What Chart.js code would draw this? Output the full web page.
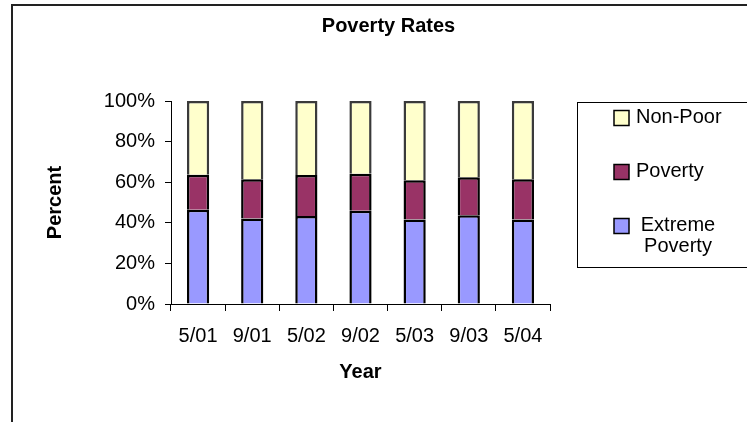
<!DOCTYPE html>
<html>
<head>
<meta charset="utf-8">
<title>Poverty Rates</title>
<script src="https://cdn.jsdelivr.net/npm/chart.js@4.4.1/dist/chart.umd.min.js"></script>
<style>
  html, body { margin: 0; padding: 0; background: #fff; overflow: hidden; }
  #wrap { position: absolute; left: 0; top: 0; width: 777px; height: 422px; }
</style>
</head>
<body>
<div id="wrap"><canvas id="myChart"></canvas></div>
<script>
const years = ["5/01", "9/01", "5/02", "9/02", "5/03", "9/03", "5/04"];
const extremePoverty = [46.4, 42.1, 43.4, 45.9, 41.6, 43.7, 41.6];
const poverty = [17.3, 19.4, 20.1, 18.3, 19.4, 18.8, 19.9];
const nonPoor = [36.3, 38.5, 36.5, 35.8, 39.0, 37.5, 38.5];
const seriesNames = ["Extreme Poverty", "Poverty", "Non-Poor"];
const seriesColors = ["#9999FF", "#993366", "#FFFFCC"];
const seriesBorders = ["#000000", "#000000", "#3a3a3a"];

const FONT = '"Liberation Sans", Arial, sans-serif';

// outer chart border (only left and top edges show in the picture)
const chartFrame = {
  id: "chartFrame",
  beforeDraw(chart) {
    const ctx = chart.ctx;
    ctx.save();
    ctx.strokeStyle = "#222";
    ctx.lineWidth = 2;
    ctx.beginPath();
    ctx.moveTo(12, chart.height);
    ctx.lineTo(12, 5);
    ctx.lineTo(chart.width, 5);
    ctx.stroke();
    ctx.restore();
  },
};

// boxed legend like the Excel one, wraps long names
const boxLegend = {
  id: "boxLegend",
  afterDraw(chart) {
    const { ctx, chartArea } = chart;
    const left = chartArea.right + 27;
    const top = chartArea.top + 1;
    ctx.save();
    ctx.strokeStyle = "#000";
    ctx.lineWidth = 1;
    ctx.strokeRect(Math.round(left) + 0.5, Math.round(top) + 0.5, 300, 165);
    ctx.font = "20px " + FONT;
    ctx.fillStyle = "#000";
    ctx.textBaseline = "middle";
    let y = top + 15;
    const items = chart.data.datasets.slice().reverse();
    items.forEach((ds) => {
      let lines = [ds.label];
      if (ctx.measureText(ds.label).width > 95) lines = ds.label.split(" ");
      ctx.fillStyle = ds.backgroundColor;
      ctx.fillRect(left + 37, y - 6.5, 15, 15);
      ctx.strokeStyle = "#000";
      ctx.lineWidth = 1.5;
      ctx.strokeRect(left + 37, y - 6.5, 15, 15);
      ctx.fillStyle = "#000";
      if (lines.length === 1) {
        ctx.textAlign = "left";
        ctx.fillText(lines[0], left + 59, y);
      } else {
        ctx.textAlign = "center";
        lines.forEach((ln, i) => ctx.fillText(ln, left + 101, y + i * 21.5));
      }
      y += 54;
    });
    ctx.restore();
  },
};

new Chart("myChart", {
  type: "bar",
  data: {
    labels: years,
    datasets: [
      { label: seriesNames[0], data: extremePoverty },
      { label: seriesNames[1], data: poverty },
      { label: seriesNames[2], data: nonPoor },
    ].map((ds, i) => ({
      ...ds,
      backgroundColor: seriesColors[i],
      borderColor: seriesBorders[i],
      borderWidth: 2.5,
      barPercentage: 0.41,
      categoryPercentage: 1,
    })),
  },
  options: {
    responsive: true,
    maintainAspectRatio: false,
    animation: false,
    layout: { padding: { left: 0, right: 0, top: 0, bottom: 38 } },
    plugins: {
      legend: { display: false },
      tooltip: { enabled: false },
      title: {
        display: true,
        text: "Poverty Rates",
        color: "#000",
        font: { family: FONT, size: 20, weight: "bold", lineHeight: 1.2 },
        padding: { top: 14, bottom: 63 },
      },
    },
    scales: {
      x: {
        stacked: true,
        grid: { drawOnChartArea: false, tickLength: 7, color: "#000", offset: true },
        border: { color: "#000", width: 1 },
        ticks: { color: "#000", padding: 13, font: { family: FONT, size: 20 }, maxRotation: 0 },
        title: {
          display: true,
          text: "Year",
          color: "#000",
          font: { family: FONT, size: 20, weight: "bold", lineHeight: 1.2 },
          padding: { top: 16, bottom: 0 },
        },
        afterFit(scale) { scale.height = 80; },
      },
      y: {
        stacked: true,
        min: 0,
        max: 100,
        grid: { drawOnChartArea: false, tickLength: 6, color: "#000" },
        border: { color: "#000", width: 1 },
        ticks: {
          stepSize: 20,
          color: "#000",
          padding: 10,
          font: { family: FONT, size: 20 },
          callback: (v) => v + "%",
        },
        title: {
          display: true,
          text: "Percent",
          color: "#000",
          font: { family: FONT, size: 20, weight: "bold", lineHeight: 1.2 },
          padding: { top: 43, bottom: 34 },
        },
        afterFit(scale) { scale.width = 171; },
      },
      // empty strip on the right that holds the legend box
      legendSpace: {
        axis: "y",
        position: "right",
        grid: { display: false },
        border: { display: false },
        ticks: { display: false },
        afterFit(scale) { scale.width = 227; },
      },
    },
  },
  plugins: [chartFrame, boxLegend],
});
</script>
</body>
</html>
